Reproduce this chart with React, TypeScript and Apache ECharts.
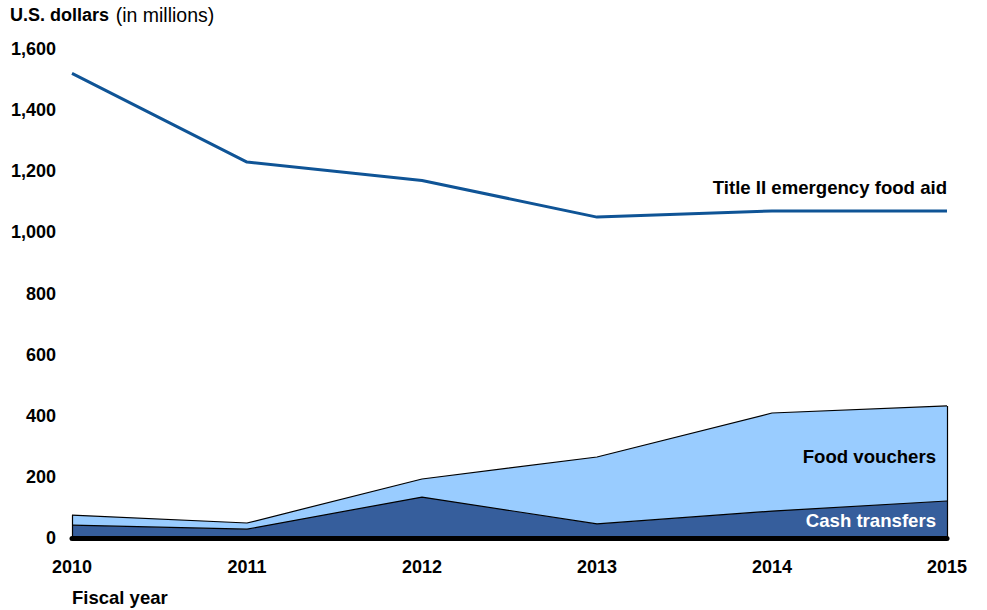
import React, { useEffect, useRef } from "react";
import * as echarts from "echarts";

const years = ["2010", "2011", "2012", "2013", "2014", "2015"];
const titleII = [1520, 1230, 1170, 1050, 1070, 1070];
const cashTransfers = [42, 29, 134, 46, 88, 121];
const foodVouchers = [33, 20, 59, 219, 321, 311];
const yTicks = [0, 200, 400, 600, 800, 1000, 1200, 1400, 1600];

const FONT = "Liberation Sans, Arial, sans-serif";

export default function App() {
  const ref = useRef<HTMLDivElement>(null);
  useEffect(() => {
    if (!ref.current) return;
    const chart = echarts.init(ref.current, undefined, { renderer: "svg" });
    const lastIdx = years.length - 1;
    const total = cashTransfers.map((c, i) => c + foodVouchers[i]);
    chart.setOption({
      animation: false,
      grid: { left: 72, right: 40, top: 49, bottom: 72 },
      xAxis: {
        type: "category",
        data: years,
        boundaryGap: false,
        axisLine: { show: true, lineStyle: { color: "#000", width: 5 } },
        axisTick: { show: false },
        axisLabel: { color: "#000", fontWeight: "bold", fontSize: 18, fontFamily: FONT, margin: 20 },
        splitLine: { show: false },
        z: 10,
      },
      yAxis: {
        type: "value",
        min: yTicks[0],
        max: yTicks[yTicks.length - 1],
        interval: 200,
        axisLine: { show: false },
        axisTick: { show: false },
        splitLine: { show: false },
        axisLabel: {
          color: "#000",
          fontWeight: "bold",
          fontSize: 18,
          fontFamily: FONT,
          margin: 16,
          formatter: (v: number) => v.toLocaleString("en-US"),
        },
      },
      series: [
        {
          type: "line",
          name: "Cash transfers",
          stack: "a",
          data: cashTransfers,
          symbol: "none",
          lineStyle: { color: "#000", width: 1.2 },
          areaStyle: { color: "#365E9C", opacity: 1 },
          z: 2,
        },
        {
          type: "line",
          name: "Food vouchers",
          stack: "a",
          data: foodVouchers,
          symbol: "none",
          lineStyle: { color: "#000", width: 1.2 },
          areaStyle: { color: "#99CCFF", opacity: 1 },
          z: 1,
          markLine: {
            symbol: "none",
            silent: true,
            label: { show: false },
            lineStyle: { color: "#000", width: 1.2, type: "solid" },
            data: [
              [{ coord: [years[0], 0] }, { coord: [years[0], total[0]] }],
              [{ coord: [years[lastIdx], 0] }, { coord: [years[lastIdx], total[lastIdx]] }],
            ],
          },
        },
        {
          type: "line",
          name: "Title II emergency food aid",
          data: titleII,
          symbol: "none",
          lineStyle: { color: "#0F5496", width: 3 },
          z: 3,
        },
      ],
      graphic: [
        {
          type: "text",
          left: 10,
          top: 5,
          z: 20,
          style: {
            rich: {
              b: { fontWeight: "bold", fontSize: 18, fontFamily: FONT, fill: "#000" },
              n: { fontSize: 19.5, fontFamily: FONT, fill: "#000" },
            },
            text: "{b|U.S. dollars}  {n|(in millions)}",
          },
        },
        {
          type: "text",
          left: 72,
          top: 588,
          z: 20,
          style: { text: "Fiscal year", fontWeight: "bold", fontSize: 18.5, fontFamily: FONT, fill: "#000" },
        },
        {
          type: "text",
          right: 40,
          top: 178,
          z: 20,
          style: { text: "Title II emergency food aid", fontWeight: "bold", fontSize: 18.6, fontFamily: FONT, fill: "#000" },
        },
        {
          type: "text",
          right: 51,
          top: 447,
          z: 20,
          style: { text: "Food vouchers", fontWeight: "bold", fontSize: 18.6, fontFamily: FONT, fill: "#000" },
        },
        {
          type: "text",
          right: 51,
          top: 511,
          z: 20,
          style: { text: "Cash transfers", fontWeight: "bold", fontSize: 18.6, fontFamily: FONT, fill: "#fff" },
        },
      ],
    });
    return () => chart.dispose();
  }, []);
  return <div ref={ref} style={{ width: 987, height: 610, position: "absolute", left: 0, top: 0 }} />;
}
